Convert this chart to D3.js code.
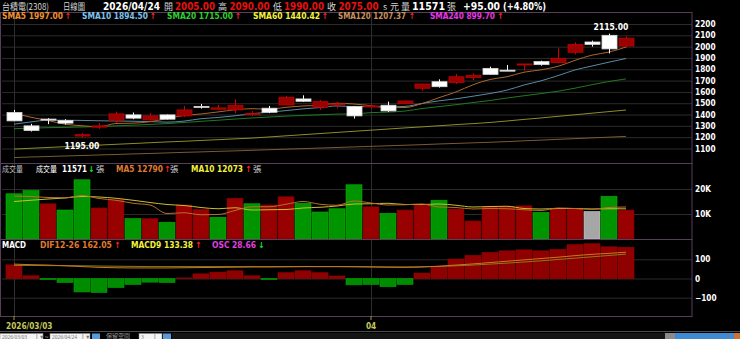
<!DOCTYPE html>
<html>
<head>
<meta charset="utf-8">
<script src="https://cdn.jsdelivr.net/npm/d3@7"></script>
<style>
  body { margin: 0; background: #000; }
  svg { display: block; }
  .num { font-family: "DejaVu Sans Condensed", "DejaVu Sans", sans-serif; font-weight: bold; font-stretch: condensed; }
  .cjk { font-family: "Noto Sans CJK TC", sans-serif; }
</style>
</head>
<body>
<svg id="chart" width="740" height="339"></svg>
<script>
// trading days shown
const dates = ["2026/03/03","2026/03/04","2026/03/05","2026/03/06","2026/03/09","2026/03/10","2026/03/11","2026/03/12","2026/03/13",
  "2026/03/16","2026/03/17","2026/03/18","2026/03/19","2026/03/20","2026/03/23","2026/03/24","2026/03/25","2026/03/26","2026/03/27",
  "2026/03/30","2026/03/31","2026/04/01","2026/04/02","2026/04/07","2026/04/08","2026/04/09","2026/04/10","2026/04/13","2026/04/14",
  "2026/04/15","2026/04/16","2026/04/17","2026/04/20","2026/04/21","2026/04/22","2026/04/23","2026/04/24"];

const open  = [1418,1300,1360,1347,1210,1289,1347,1397,1353,1397,1388,1472,1447,1441,1398,1456,1485,1538,1465,1488,1470,1470,1482,1497,1632,1690,1684,1728,1808,1792,1841,1868,1859,1950,2041,2100,2005];
const high  = [1441,1318,1368,1359,1236,1324,1426,1418,1412,1400,1476,1494,1485,1535,1430,1476,1564,1570,1529,1514,1476,1490,1514,1523,1673,1711,1758,1764,1823,1838,1849,1876,1985,2038,2053,2115,2090];
const low   = [1344,1250,1315,1312,1195,1274,1324,1359,1338,1356,1377,1453,1441,1412,1388,1412,1482,1511,1441,1453,1365,1453,1423,1494,1611,1638,1670,1705,1752,1785,1788,1832,1856,1932,2000,1940,1990];
const close = [1344,1259,1355,1324,1222,1300,1406,1368,1388,1359,1441,1468,1459,1482,1408,1420,1553,1517,1514,1494,1388,1476,1432,1520,1670,1646,1734,1746,1755,1788,1847,1841,1897,2020,2020,1980,2075];

const sma5   = [1411,1376,1347,1315,1301,1292,1321,1324,1337,1364,1392,1405,1423,1442,1452,1447,1464,1476,1482,1500,1493,1478,1461,1462,1497,1549,1600,1663,1710,1734,1774,1795,1826,1879,1925,1952,1997];
const sma10  = [1315,1335,1350,1350,1348,1345,1343,1341,1338,1333,1342,1363,1374,1389,1408,1420,1435,1450,1462,1476,1470,1471,1468,1472,1498,1521,1539,1562,1586,1616,1661,1698,1744,1794,1829,1863,1895];
const sma20  = [1275,1280,1284,1287,1290,1294,1300,1306,1313,1320,1330,1340,1350,1360,1370,1378,1386,1392,1398,1404,1406,1417,1421,1431,1453,1470,1487,1506,1524,1546,1566,1585,1606,1633,1664,1692,1715];
const sma60  = [1095,1102,1109,1116,1123,1130,1137,1144,1151,1158,1164,1171,1178,1185,1192,1202,1212,1222,1232,1242,1252,1262,1272,1282,1291,1301,1311,1320,1330,1343,1357,1370,1384,1398,1412,1426,1440];
const sma120 = [1020,1025,1029,1034,1038,1043,1047,1052,1056,1061,1066,1070,1075,1079,1084,1089,1094,1099,1104,1109,1114,1119,1124,1129,1134,1140,1145,1150,1155,1161,1168,1174,1181,1187,1194,1200,1207];

// volume in 張
const volume = [18100,19400,14100,11600,23700,12400,15700,8200,8200,6700,13600,11900,8700,16300,14100,13600,16900,14300,10800,12100,21700,12900,10300,11600,13600,15500,12000,7200,12900,12900,13300,10700,12200,12100,11000,17100,11571];
const volMa5  = [17200,17000,16600,16500,17400,16200,15500,14300,13600,10200,10500,9700,9800,11400,12900,12900,13900,15000,13900,13500,15200,14400,13600,13700,14000,12800,12600,12000,12200,12100,11700,11400,12400,12200,11900,12600,12790];
const volMa10 = [15000,15500,16000,16400,17000,16800,16300,15500,14600,13800,13400,12600,12100,12500,11600,11700,11800,12400,12700,13200,14000,14100,14300,13800,13800,14000,13500,12800,13000,13100,12200,12000,12200,12200,12000,12100,12073];

const macdBar  = [71,14,-5,-21,-70,-73,-47,-31,-19,-21,3,24,33,40,14,-5,30,40,30,13,-33,-31,-43,-31,28,61,101,120,135,144,149,144,151,176,181,165,162];
const difLine  = [75,72,70,66,62,58,56,55,55,55,56,57,58,59,60,60,61,62,62,62,61,60,59,58,60,64,70,76,83,90,97,104,111,119,126,131,137];
const macdLine = [68,68,67,67,66,65,64,63,62,62,62,62,62,62,62,62,62,62,62,62,62,61,60,60,61,63,66,70,75,80,86,92,99,106,113,120,127];

const priceTicks = [1100,1200,1300,1400,1500,1600,1700,1800,1900,2000,2100,2200];
const volTicks = [10000,20000];
const macdTicks = [-100,0,100];
const dateTicks = ["2026/03/03","2026/04/01"];

const svg = d3.select("#chart");
const right = 692, left = 2;

// panels
const pMain = {top: 12, bottom: 163};
const pVol  = {top: 163, bottom: 239};
const pMacd = {top: 239, bottom: 316};

const x = d3.scaleBand().domain(dates).range([5.5, 5.5 + 17 * dates.length]).padding(0);
const cx = d => x(d) + x.bandwidth() / 2;

const y = d3.scaleLinear().domain([1100, 2200]).range([148.5, 24]);
const yv = d3.scaleLinear().domain([0, 20000]).range([239, 189]);
const ym = d3.scaleLinear().domain([-100, 100]).range([297.7, 259.3]);

const defs = svg.append("defs");
[["cMain", pMain], ["cVol", pVol], ["cMacd", pMacd]].forEach(([id, p]) => {
  defs.append("clipPath").attr("id", id).append("rect")
    .attr("x", left).attr("y", p.top).attr("width", right - left).attr("height", p.bottom - p.top);
});

// grid lines
function grid(scale, ticks) {
  svg.append("g").attr("transform", `translate(${right},0)`)
    .call(d3.axisLeft(scale).tickValues(ticks).tickSize(right - left).tickFormat(""))
    .call(g => g.select(".domain").remove())
    .call(g => g.selectAll("line").attr("stroke", "#2b2b2b"));
}
grid(y, priceTicks);
grid(yv, volTicks);
grid(ym, macdTicks);

// vertical date lines
svg.append("g").selectAll("line").data(dateTicks).enter().append("line")
  .attr("x1", d => Math.round(cx(d)) + 0.5).attr("x2", d => Math.round(cx(d)) + 0.5)
  .attr("y1", pMain.top).attr("y2", pMacd.bottom)
  .attr("stroke", "#2e2e2e");

// panel borders
[pMain, pVol, pMacd].forEach(p => {
  svg.append("rect").attr("x", left - 1.5).attr("y", p.top + 0.5)
    .attr("width", right - left + 1.5).attr("height", p.bottom - p.top)
    .attr("fill", "none").attr("stroke", "#5a3d5a");
});

// moving average lines in main panel
const gMain = svg.append("g").attr("clip-path", "url(#cMain)");
const smaLines = [[sma120, "#7a5a32"], [sma60, "#8c8c2a"], [sma20, "#1f7a1f"], [sma10, "#5a8aa3"], [sma5, "#b0662a"]];
smaLines.forEach(([arr, col]) => {
  gMain.append("path").datum(arr)
    .attr("fill", "none").attr("stroke", col).attr("stroke-width", 1)
    .attr("d", d3.line().x((d, i) => cx(dates[i])).y(d => y(d)).curve(d3.curveMonotoneX));
});

// candles
const candles = gMain.selectAll(".candle").data(dates).enter().append("g").attr("class", "candle");
const up = i => close[i] >= open[i];
candles.append("line")
  .attr("x1", (d) => Math.round(cx(d)) + 0.5).attr("x2", (d) => Math.round(cx(d)) + 0.5)
  .attr("y1", (d, i) => y(high[i])).attr("y2", (d, i) => y(low[i]))
  .attr("stroke", (d, i) => up(i) ? "#d40000" : "#ffffff");
candles.append("rect")
  .attr("x", d => Math.round(cx(d)) - 7)
  .attr("width", 15)
  .attr("y", (d, i) => y(Math.max(open[i], close[i])))
  .attr("height", (d, i) => Math.max(1, y(Math.min(open[i], close[i])) - y(Math.max(open[i], close[i]))))
  .attr("fill", (d, i) => up(i) ? "#990000" : "#ffffff")
  .attr("stroke", (d, i) => up(i) ? "#c00000" : "#d8d8d8")
  .attr("stroke-width", 0.8);

// high / low labels
const iHigh = d3.maxIndex(high), iLow = d3.minIndex(low);
svg.append("text").attr("class", "num").attr("x", cx(dates[iHigh]) + 2).attr("y", y(high[iHigh]) - 4)
  .attr("text-anchor", "middle").attr("font-size", 8.5).attr("fill", "#fff").text(high[iHigh].toFixed(2));
svg.append("text").attr("class", "num").attr("x", cx(dates[iLow])).attr("y", y(low[iLow]) + 11)
  .attr("text-anchor", "middle").attr("font-size", 8.5).attr("fill", "#fff").text(low[iLow].toFixed(2));

// volume bars
const gVol = svg.append("g").attr("clip-path", "url(#cVol)");
const volColor = i => i === 0 ? "g" : (close[i] > close[i - 1] ? "r" : close[i] < close[i - 1] ? "g" : "n");
const vFill = {r: "#990000", g: "#009500", n: "#a6a6a6"};
const vStroke = {r: "#7a0000", g: "#00b000", n: "#c8c8c8"};
gVol.selectAll("rect").data(volume).enter().append("rect")
  .attr("x", (d, i) => x(dates[i]) + 0.5)
  .attr("width", x.bandwidth() - 1)
  .attr("y", d => yv(d))
  .attr("height", d => yv(0) - yv(d))
  .attr("fill", (d, i) => vFill[volColor(i)])
  .attr("stroke", (d, i) => vStroke[volColor(i)]).attr("stroke-width", 0.6);
[[volMa10, "#c8c030"], [volMa5, "#b8702a"]].forEach(([arr, col]) => {
  gVol.append("path").datum(arr).attr("fill", "none").attr("stroke", col).attr("stroke-width", 1)
    .attr("d", d3.line().x((d, i) => cx(dates[i])).y(d => yv(d)).curve(d3.curveMonotoneX));
});

// MACD panel
const gMacd = svg.append("g").attr("clip-path", "url(#cMacd)");
gMacd.selectAll("rect").data(macdBar).enter().append("rect")
  .attr("x", (d, i) => x(dates[i]) + 0.5)
  .attr("width", x.bandwidth() - 1)
  .attr("y", d => Math.min(ym(d), ym(0)))
  .attr("height", d => Math.abs(ym(d) - ym(0)))
  .attr("fill", d => d >= 0 ? "#8f0000" : "#008c00")
  .attr("stroke", d => d >= 0 ? "#a00000" : "#00a000").attr("stroke-width", 0.6);
[[macdLine, "#8a7a20"], [difLine, "#c8781e"]].forEach(([arr, col]) => {
  gMacd.append("path").datum(arr).attr("fill", "none").attr("stroke", col).attr("stroke-width", 1)
    .attr("d", d3.line().x((d, i) => cx(dates[i])).y(d => ym(d)).curve(d3.curveMonotoneX));
});

// right axes
function rightAxis(scale, ticks, fmt) {
  svg.append("g").attr("transform", `translate(${right},0)`)
    .call(d3.axisRight(scale).tickValues(ticks).tickSize(0).tickPadding(3).tickFormat(fmt))
    .call(g => g.select(".domain").remove())
    .call(g => g.selectAll("text").attr("fill", "#ffffff").attr("font-size", 8.2)
      .attr("font-family", null).attr("class", "num"));
}
rightAxis(y, priceTicks, d3.format("d"));
rightAxis(yv, volTicks, d => (d / 1000) + "K");
rightAxis(ym, macdTicks, d3.format("d"));

// date axis
svg.append("g").attr("transform", `translate(0,${pMacd.bottom})`)
  .call(d3.axisBottom(x).tickValues(dateTicks).tickSize(4).tickPadding(3)
    .tickFormat(d => d === "2026/04/01" ? "04" : d))
  .call(g => g.select(".domain").remove())
  .call(g => g.selectAll("line").attr("stroke", "#9a9a40"))
  .call(g => g.selectAll("text").attr("fill", "#c8c85a").attr("font-size", 8.2)
    .attr("font-family", null).attr("class", "num")
    .attr("text-anchor", d => d === "2026/03/03" ? "start" : "middle")
    .attr("dx", d => d === "2026/03/03" ? -8 : 0));

// legend rows: each item placed at its x
const RED = "#ff2020", GRN = "#20e020", GRAY = "#d4d4d4";
function legend(items, yPos) {
  items.forEach(it => {
    const t = svg.append("text").attr("x", it.x).attr("y", yPos)
      .attr("class", it.cjk ? "cjk" : "num")
      .attr("font-size", it.size || (it.cjk ? 8.5 : 8.4))
      .attr("fill", it.color).text(it.text);
    if (it.w) t.attr("textLength", it.w).attr("lengthAdjust", "spacingAndGlyphs");
  });
}
const upA = "↑", dnA = "↓";

// title row
legend([
  {x: 2, text: "台積電(2308)", color: GRAY, cjk: true, size: 9.5, w: 47},
  {x: 63, text: "日線圖", color: GRAY, cjk: true, size: 9.5, w: 22},
  {x: 103, text: "2026/04/24", color: "#ffffff", size: 9.9, w: 57},
  {x: 164, text: "開", color: GRAY, cjk: true, size: 9},
  {x: 175, text: open[36].toFixed(2), color: "#e81010", size: 9.8, w: 40},
  {x: 218, text: "高", color: GRAY, cjk: true, size: 9},
  {x: 229.5, text: high[36].toFixed(2), color: "#e81010", size: 9.8, w: 40},
  {x: 273, text: "低", color: GRAY, cjk: true, size: 9},
  {x: 284, text: low[36].toFixed(2), color: "#e81010", size: 9.8, w: 40},
  {x: 327, text: "收", color: GRAY, cjk: true, size: 9},
  {x: 338.5, text: close[36].toFixed(2), color: "#e81010", size: 9.8, w: 40},
  {x: 383, text: "s", color: GRAY, cjk: true, size: 9},
  {x: 390, text: "元", color: GRAY, cjk: true, size: 9},
  {x: 401, text: "量", color: GRAY, cjk: true, size: 9},
  {x: 412, text: String(volume[36]), color: "#ffffff", size: 9.8, w: 33},
  {x: 447, text: "張", color: GRAY, cjk: true, size: 9},
  {x: 463, text: "+" + (close[36] - close[35]).toFixed(2), color: "#ffffff", size: 9.8, w: 37},
  {x: 503, text: "(+" + ((close[36] - close[35]) / close[35] * 100).toFixed(2) + "%)", color: "#ffffff", size: 9.8, w: 43}
], 9.5);

// SMA row
legend([
  {x: 2, text: "SMA5 1997.00", color: "#f0922e", w: 61},
  {x: 64.5, text: upA, color: RED},
  {x: 82, text: "SMA10 1894.50", color: "#7cc4ec", w: 66},
  {x: 149.5, text: upA, color: RED},
  {x: 167, text: "SMA20 1715.00", color: "#2fcf2f", w: 66},
  {x: 234.5, text: upA, color: RED},
  {x: 253, text: "SMA60 1440.42", color: "#f2f23a", w: 67},
  {x: 321.5, text: upA, color: RED},
  {x: 338, text: "SMA120 1207.37", color: "#c8925a", w: 68},
  {x: 408.5, text: upA, color: RED},
  {x: 430, text: "SMA240 899.70", color: "#e838e8", w: 65},
  {x: 497, text: upA, color: RED}
], 19);

// volume row
legend([
  {x: 2, text: "成交量", color: "#bdbdbd", cjk: true, w: 21},
  {x: 36, text: "成交量", color: "#ffffff", cjk: true, w: 21},
  {x: 62, text: String(volume[36]), color: "#ffffff", w: 25},
  {x: 88, text: dnA, color: GRN},
  {x: 96, text: "張", color: GRAY, cjk: true},
  {x: 116, text: "MA5 " + volMa5[36], color: "#e07a2e", w: 47},
  {x: 164, text: upA, color: RED},
  {x: 170, text: "張", color: GRAY, cjk: true},
  {x: 191, text: "MA10 " + volMa10[36], color: "#f2f23a", w: 52},
  {x: 245, text: upA, color: RED},
  {x: 253, text: "張", color: GRAY, cjk: true}
], 171.5);

// MACD row
legend([
  {x: 2, text: "MACD", color: "#ffffff", w: 24},
  {x: 40, text: "DIF12-26 162.05", color: "#e07a2e", w: 72},
  {x: 114, text: upA, color: RED},
  {x: 131, text: "MACD9 133.38", color: "#f2f23a", w: 62},
  {x: 195, text: upA, color: RED},
  {x: 212, text: "OSC 28.66", color: "#e040e0", w: 44},
  {x: 258, text: dnA, color: GRN}
], 248);

// bottom toolbar
const tb = svg.append("g");
tb.append("line").attr("x1", 0).attr("x2", 740).attr("y1", 331.5).attr("y2", 331.5).attr("stroke", "#4a4a4a");
tb.append("rect").attr("x", 172).attr("y", 333).attr("width", 493).attr("height", 6).attr("fill", "#141414");
function box(bx, bw, txt) {
  tb.append("rect").attr("x", bx).attr("y", 333.5).attr("width", bw).attr("height", 6).attr("fill", "#f4f4f4").attr("stroke", "#888").attr("stroke-width", 0.5);
  tb.append("text").attr("x", bx + 2).attr("y", 338.5).attr("font-size", 5.5).attr("fill", "#777")
    .attr("font-family", "Liberation Serif, serif").text(txt);
}
box(0, 37, "2026/03/03");
box(37, 6, "▼");
tb.append("text").attr("x", 45).attr("y", 338.5).attr("font-size", 6).attr("fill", "#ccc").text("~");
box(50, 33, "2026/04/24");
box(83, 7, "▼");
tb.append("rect").attr("x", 92).attr("y", 333.5).attr("width", 8).attr("height", 6).attr("fill", "#5a9ad8");
tb.append("text").attr("class", "cjk").attr("x", 106).attr("y", 338).attr("font-size", 6).attr("fill", "#9a9a9a").text("保留空間");
box(139, 16, "3");
box(155, 7, "");
tb.append("rect").attr("x", 163).attr("y", 333.5).attr("width", 8).attr("height", 6).attr("fill", "#5a9ad8");
tb.append("rect").attr("x", 665).attr("y", 333).attr("width", 10).attr("height", 6).attr("fill", "#8a8a8a");
tb.append("rect").attr("x", 675).attr("y", 333).attr("width", 59).attr("height", 6).attr("fill", "#3f8ad0");
tb.append("rect").attr("x", 734).attr("y", 333).attr("width", 6).attr("height", 6).attr("fill", "#d07030");
</script>
</body>
</html>
